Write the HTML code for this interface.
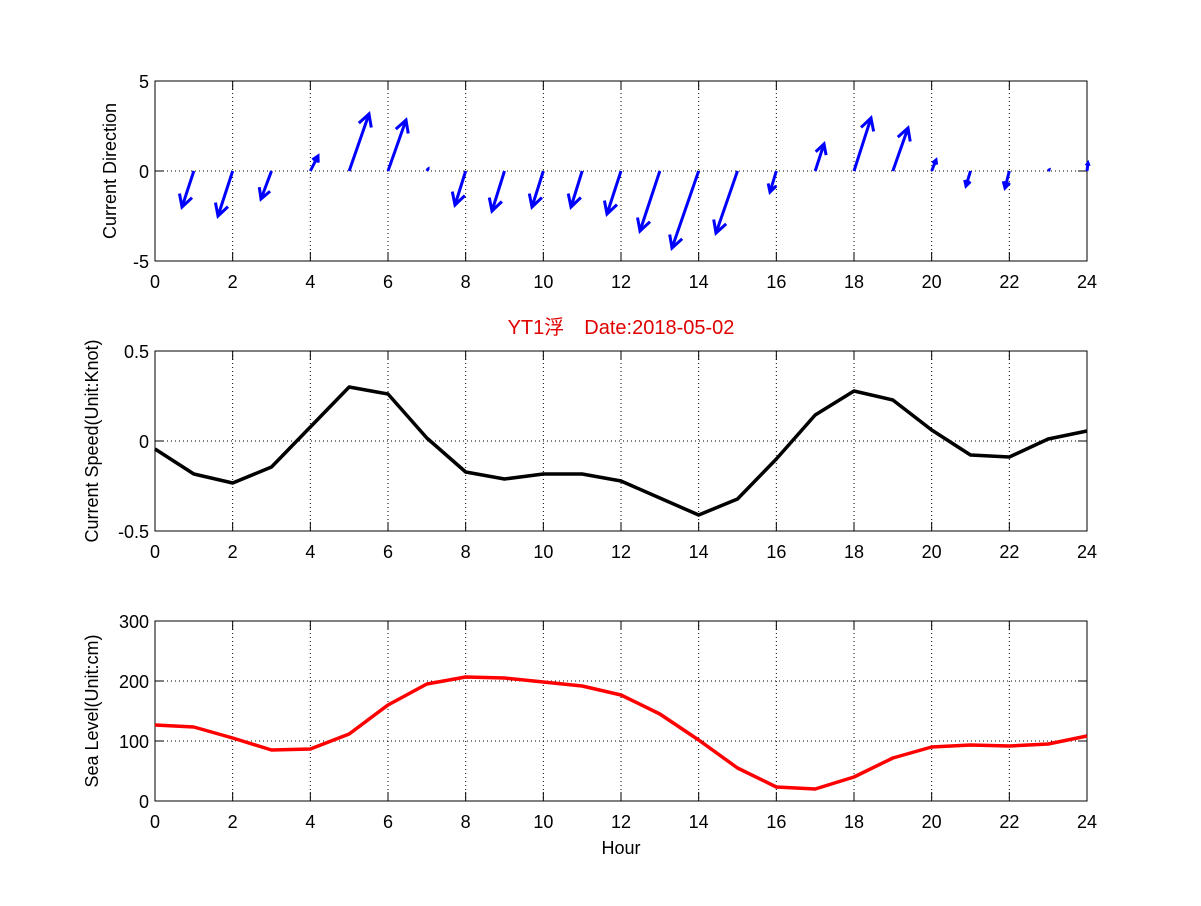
<!DOCTYPE html>
<html><head><meta charset="utf-8"><style>
body{margin:0;background:#fff}
svg text{font-family:"Liberation Sans","Noto Sans CJK SC",sans-serif;font-size:18px}
</style></head><body>
<svg id="s" width="1201" height="901" xmlns="http://www.w3.org/2000/svg">
<rect width="1201" height="901" fill="#fff"/>
<g id="g"></g>
<text x="621" y="334" text-anchor="middle" fill="#e00000" style="font-size:20px">YT1浮　Date:2018-05-02</text>
<text x="621" y="854" text-anchor="middle">Hour</text>
<text transform="translate(116,171) rotate(-90)" text-anchor="middle">Current Direction</text>
<text transform="translate(98,441) rotate(-90)" text-anchor="middle">Current Speed(Unit:Knot)</text>
<text transform="translate(98,711) rotate(-90)" text-anchor="middle">Sea Level(Unit:cm)</text>
</svg>
<script>
const g=document.getElementById('g');let h='';
const X0=155,X1=1087,W=X1-X0;
const panels=[[81,261,['5','0','-5']],[351,531,['0.5','0','-0.5']],[621,801,['300','200','100','0']]];
for(const [t,b,labs] of panels){
 for(let i=1;i<12;i++){const x=X0+W*i/12;h+=`<line x1="${x}" y1="${t}" x2="${x}" y2="${b}" stroke="#000" stroke-dasharray="1,3"/>`;}
 const n=labs.length;
 for(let j=0;j<n;j++){const y=t+(b-t)*j/(n-1);
  if(j>0&&j<n-1)h+=`<line x1="${X0}" y1="${y}" x2="${X1}" y2="${y}" stroke="#000" stroke-dasharray="1,3"/>`;
  h+=`<line x1="${X0}" y1="${y}" x2="${X0+9}" y2="${y}" stroke="#000"/><line x1="${X1}" y1="${y}" x2="${X1-9}" y2="${y}" stroke="#000"/>`;
  h+=`<text x="${X0-6}" y="${y+7}" text-anchor="end">${labs[j]}</text>`;}
 for(let i=0;i<=12;i++){const x=X0+W*i/12;
  h+=`<line x1="${x}" y1="${b}" x2="${x}" y2="${b-9}" stroke="#000"/><line x1="${x}" y1="${t}" x2="${x}" y2="${t+9}" stroke="#000"/>`;
  h+=`<text x="${x}" y="${b+27}" text-anchor="middle">${i*2}</text>`;}
 h+=`<rect x="${X0}" y="${t}" width="${W}" height="${b-t}" fill="none" stroke="#000"/>`;
}
const tips=[[182,207],[218,216],[261,199],[318,156],[369,114],[406,120],[428,169],[455,205],[492,211],[532,207],[571,207],[607,214],[640,231],[672,248],[716,233],[770,192],[824,144],[871,118],[908,128],[936,160],[966,186],[1005,188],[1049,170],[1088,163]];
tips.forEach((p,i)=>{const x0=X0+W*(i+1)/24,y0=171,dx=p[0]-x0,dy=p[1]-y0,L=Math.hypot(dx,dy);
 if(L<1)return;const ux=dx/L,uy=dy/L,hl=Math.min(12,L*0.35),hw=hl*0.55;
 const bx=p[0]-ux*hl,by=p[1]-uy*hl;
 h+=`<path d="M${x0} ${y0}L${p[0]} ${p[1]}M${bx-uy*hw} ${by+ux*hw}L${p[0]} ${p[1]}L${bx+uy*hw} ${by-ux*hw}" stroke="#0000ff" stroke-width="3" fill="none"/>`;});
const sp=[449,474,483,467,427,387,394,438,472,479,474,474,481,498,515,499,459,415,391,400,430,455,457,439,431];
const sl=[725,727,738,750,749,734,705,684,677,678,682,686,695,714,740,768,787,789,777,758,747,745,746,744,736];
const pl=(a,c)=>`<polyline fill="none" stroke="${c}" stroke-width="3.5" stroke-linejoin="round" points="${a.map((y,i)=>(X0+W*i/24)+','+y).join(' ')}"/>`;
h+=pl(sp,'#000')+pl(sl,'#ff0000');
g.innerHTML=h;
</script>
</body></html>
